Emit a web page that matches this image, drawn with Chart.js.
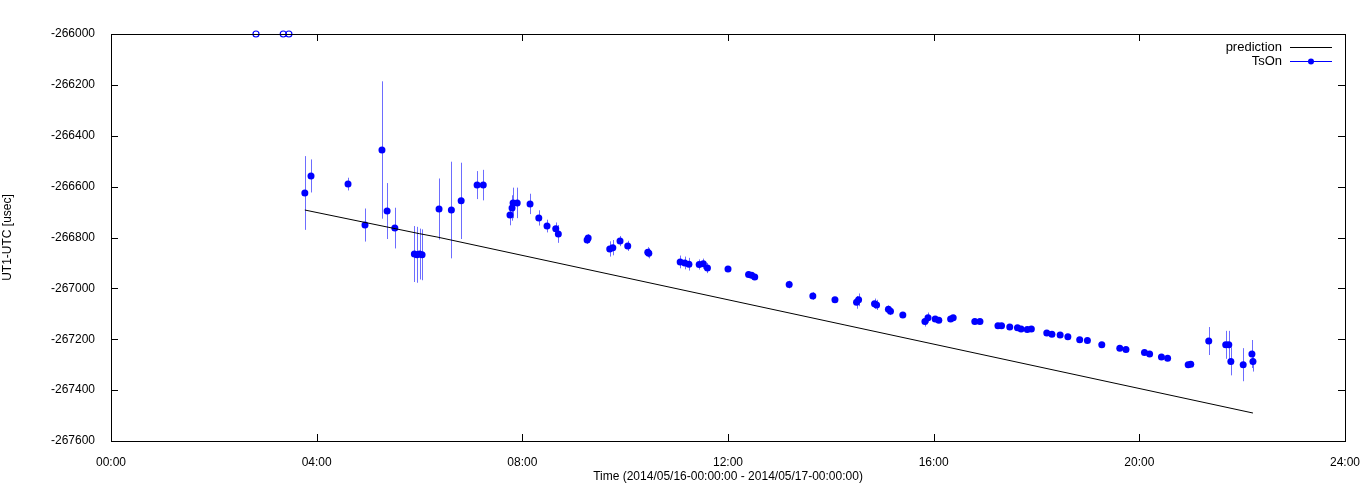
<!DOCTYPE html>
<html><head><meta charset="utf-8">
<script src="https://cdn.jsdelivr.net/npm/chart.js@4.4.1/dist/chart.umd.min.js"></script>
<style>html,body{margin:0;padding:0;background:#fff}#w{width:1368px;height:504px}</style>
</head><body><div id="w"><canvas id="c"></canvas></div>
<script>
const hours = [3.77,3.89,4.61,4.94,5.27,5.37,5.52,5.9,5.95,6.0,6.05,6.38,6.62,6.81,7.12,7.24,7.76,7.8,7.82,7.9,8.15,8.32,8.48,8.65,8.7,9.26,9.28,9.7,9.76,9.9,10.05,10.44,10.46,11.07,11.16,11.24,11.44,11.52,11.6,12.0,12.4,12.46,12.52,13.19,13.65,14.08,14.5,14.54,14.85,14.89,15.12,15.16,15.4,15.83,15.89,16.03,16.1,16.33,16.38,16.8,16.9,17.25,17.32,17.48,17.63,17.7,17.82,17.9,18.2,18.3,18.46,18.61,18.84,18.99,19.27,19.62,19.74,20.1,20.2,20.43,20.55,20.95,21.0,21.35,21.68,21.74,21.78,22.02,22.19,22.21];
const values = [-266625,-266558,-266590,-266751,-266456,-266696,-266763,-266865,-266868,-266865,-266868,-266688,-266692,-266656,-266594,-266594,-266712,-266684,-266664,-266664,-266668,-266723,-266755,-266766,-266786,-266810,-266802,-266845,-266840,-266814,-266833,-266858,-266862,-266896,-266900,-266905,-266906,-266903,-266920,-266924,-266945,-266948,-266955,-266985,-267030,-267045,-267055,-267045,-267060,-267065,-267082,-267090,-267105,-267130,-267115,-267120,-267125,-267120,-267115,-267130,-267130,-267147,-267147,-267152,-267155,-267160,-267162,-267160,-267175,-267180,-267183,-267190,-267202,-267205,-267222,-267235,-267240,-267252,-267258,-267270,-267275,-267300,-267298,-267207,-267222,-267222,-267287,-267300,-267258,-267287];
const errors = [145,65,25,65,270,110,80,110,110,100,100,120,190,150,55,60,40,50,60,60,40,30,25,25,35,15,15,30,30,20,20,20,20,25,25,25,20,20,20,10,10,10,10,15,15,10,25,25,20,20,15,15,10,20,20,10,10,10,10,10,10,8,8,8,8,8,8,8,8,8,8,8,8,8,8,8,8,8,8,8,8,8,8,55,55,55,55,65,55,40];
const predHours = [3.77,6.0,6.34,22.21];
const predValues = [-266692,-266785,-266798,-267490];
const clipHours = [2.82,3.35,3.46];
const clipValues = [-266000,-266000,-266000];
const xTicks = [0,4,8,12,16,20,24];
const yMin = -267600, yMax = -266000;

const BLUE = '#0000ff';
const FONT = '"Liberation Sans", Arial, sans-serif';
const chromePlugin = {
  id:'chrome',
  beforeDatasetsDraw(ch){
    const {ctx, scales:{x,y}} = ch;
    ctx.save();
    ctx.strokeStyle='rgba(60,60,255,0.75)'; ctx.lineWidth=1;
    hours.forEach((h,i)=>{
      const px=Math.round(x.getPixelForValue(h))+0.5;
      ctx.beginPath();
      ctx.moveTo(px,y.getPixelForValue(values[i]-errors[i]));
      ctx.lineTo(px,y.getPixelForValue(values[i]+errors[i]));
      ctx.stroke();
    });
    ctx.restore();
  },
  afterDraw(ch){
    const {ctx, chartArea:a, scales:{x,y}} = ch;
    ctx.save();
    ctx.strokeStyle='#000'; ctx.lineWidth=1;
    ctx.strokeRect(a.left+0.5,a.top+0.5,a.right-a.left,a.bottom-a.top);
    ctx.beginPath();
    xTicks.forEach(t=>{const p=Math.round(x.getPixelForValue(t))+0.5;
      ctx.moveTo(p,a.bottom);ctx.lineTo(p,a.bottom-7);ctx.moveTo(p,a.top);ctx.lineTo(p,a.top+7);});
    for(let v=yMin; v<=yMax; v+=200){const p=Math.round(y.getPixelForValue(v))+0.5;
      ctx.moveTo(a.left,p);ctx.lineTo(a.left+7,p);ctx.moveTo(a.right,p);ctx.lineTo(a.right-7,p);}
    ctx.stroke();
    ctx.font='13px '+FONT; ctx.fillStyle='#000';
    ctx.textAlign='right'; ctx.textBaseline='middle';
    ctx.fillText('prediction',1282,47); ctx.fillText('TsOn',1282,61);
    ctx.beginPath(); ctx.moveTo(1290,47.5); ctx.lineTo(1332,47.5); ctx.stroke();
    ctx.strokeStyle=BLUE; ctx.beginPath(); ctx.moveTo(1290,61.5); ctx.lineTo(1332,61.5); ctx.stroke();
    ctx.fillStyle=BLUE; ctx.beginPath(); ctx.arc(1311,61.5,3,0,Math.PI*2); ctx.fill();
    ctx.restore();
  }
};
const pad=v=>String(v).padStart(2,'0');
new Chart(document.getElementById('c'),{
  type:'scatter',
  data:{datasets:[
    {label:'prediction',data:predHours.map((h,i)=>({x:h,y:predValues[i]})),showLine:true,borderColor:'#000',borderWidth:1,pointRadius:0},
    {label:'TsOn',data:hours.map((h,i)=>({x:h,y:values[i]})),backgroundColor:BLUE,borderColor:BLUE,pointRadius:3.5,borderWidth:0},
    {label:'clip',data:clipHours.map((h,i)=>({x:h,y:clipValues[i]})),backgroundColor:'rgba(0,0,0,0)',borderColor:BLUE,pointRadius:3,borderWidth:1.2,clip:false}
  ]},
  options:{
    responsive:true,maintainAspectRatio:false,animation:false,
    layout:{padding:{top:34,right:23,left:0,bottom:0}},
    plugins:{legend:{display:false},tooltip:{enabled:false}},
    scales:{
      x:{type:'linear',min:0,max:24,afterFit(s){s.height=63;},
        afterBuildTicks(s){s.ticks=xTicks.map(v=>({value:v}));},
        grid:{display:false},border:{display:false},
        ticks:{color:'#000',font:{family:FONT,size:12},padding:6,maxRotation:0,callback:v=>pad(v)+':00'},
        title:{display:true,text:'Time (2014/05/16-00:00:00 - 2014/05/17-00:00:00)',color:'#000',font:{family:FONT,size:12},padding:{top:2,bottom:20}}},
      y:{min:yMin,max:yMax,afterFit(s){s.width=111;},
        ticks:{stepSize:200,color:'#000',font:{family:FONT,size:12},padding:8,callback:v=>String(v)},
        grid:{display:false},border:{display:false},
        title:{display:true,text:'UT1-UTC [usec]',color:'#000',font:{family:FONT,size:12},padding:{top:0,bottom:0}}}
    }
  },
  plugins:[chromePlugin]
});
</script></body></html>
